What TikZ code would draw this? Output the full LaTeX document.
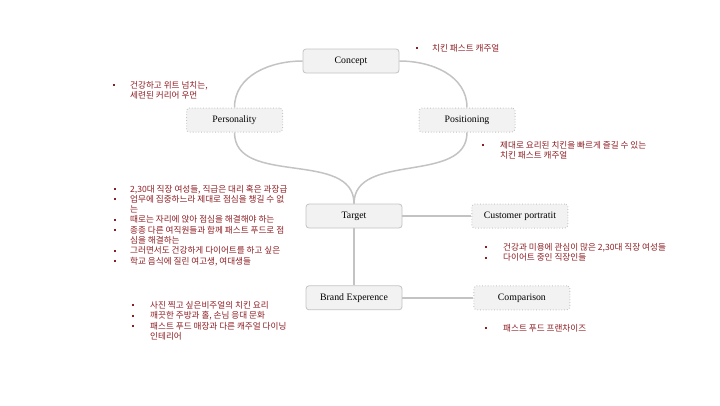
\documentclass[tikz,border=0pt]{standalone}
\usepackage{fontspec}
\setmainfont{Liberation Serif}
\newfontfamily\kofont{Noto Sans CJK KR}
\usetikzlibrary{positioning}
\definecolor{boxfill}{RGB}{242,242,242}
\definecolor{boxline}{RGB}{195,195,195}
\definecolor{linkgray}{RGB}{195,195,195}
\definecolor{notered}{RGB}{140,30,35}
\newcommand{\blt}{\rule[2.3pt]{2pt}{2pt}}

\begin{document}
\begin{tikzpicture}[x=1pt, y=-1pt,
    topic/.style={draw=boxline, fill=boxfill, rounded corners=3pt, line width=0.8pt, minimum width=96pt, minimum height=24pt, inner sep=0pt, font=\fontsize{9.8}{11}\selectfont},
    subtopic/.style={topic, dotted, line width=1pt},
    link/.style={draw=linkgray, line width=1.5pt},
    note/.style={anchor=north west, inner sep=0pt, text=notered, font=\kofont\fontsize{8.6}{10.3}\selectfont}
]
    \useasboundingbox (0,0) rectangle (720,405);

    \node[topic] (concept) at (351,61) {Concept};
    \node[subtopic] (personality) at (234.5,120) {Personality};
    \node[subtopic] (positioning) at (467,120) {Positioning};
    \node[topic] (target) at (354,216) {Target};
    \node[subtopic, right=69pt of target.east, anchor=west] (customer) {Customer portratit};
    \node[topic, below=57pt of target.south, anchor=north] (brand) {Brand Experence};
    \node[subtopic, right=71pt of brand.east, anchor=west] (comparison) {Comparison};

    % links between topics
    \draw[link] (concept.west) to[out=180,in=90] (personality.north);
    \draw[link] (concept.east) to[out=0,in=90] (positioning.north);
    \draw[link] (personality.south) to[out=-90,in=90] (target.north);
    \draw[link] (positioning.south) to[out=-90,in=90] (target.north);
    \draw[link] (target.east) -- (customer.west);
    \draw[link] (target.south) -- (brand.north);
    \draw[link] (brand.east) -- (comparison.west);

    % notes
    \node[note] (conceptnote) at (416,44.1) {\begin{tabular}{@{}p{16pt}@{}l@{}}
        \blt & 치킨 패스트 캐주얼 \\
    \end{tabular}};
    \node[note] (personalitynote) at (113,81.1) {\begin{tabular}{@{}p{17pt}@{}l@{}}
        \blt & 건강하고 위트 넘치는, \\
             & 세련된 커리어 우먼 \\
    \end{tabular}};
    \node[note] (positioningnote) at (482,141.1) {\begin{tabular}{@{}p{18pt}@{}l@{}}
        \blt & 제대로 요리된 치킨을 빠르게 즐길 수 있는 \\
             & 치킨 패스트 캐주얼 \\
    \end{tabular}};
    \node[note] (targetnote) at (114,184.6) {\begin{tabular}{@{}p{16pt}@{}l@{}}
        \blt & 2,30대 직장 여성들, 직급은 대리 혹은 과장급 \\
        \blt & 업무에 집중하느라 제대로 점심을 챙길 수 없 \\
             & 는 \\
        \blt & 때로는 자리에 앉아 점심을 해결해야 하는 \\
        \blt & 종종 다른 여직원들과 함께 패스트 푸드로 점 \\
             & 심을 해결하는 \\
        \blt & 그러면서도 건강하게 다이어트를 하고 싶은 \\
        \blt & 학교 음식에 질린 여고생, 여대생들 \\
    \end{tabular}};
    \node[note] (customernote) at (485,243.1) {\begin{tabular}{@{}p{18pt}@{}l@{}}
        \blt & 건강과 미용에 관심이 많은 2,30대 직장 여성들 \\
        \blt & 다이어트 중인 직장인들 \\
    \end{tabular}};
    \node[note] (brandnote) at (132,301.1) {\begin{tabular}{@{}p{18pt}@{}l@{}}
        \blt & 사진 찍고 싶은비주얼의 치킨 요리 \\
        \blt & 깨끗한 주방과 홀, 손님 응대 문화 \\
        \blt & 패스트 푸드 매장과 다른 캐주얼 다이닝 \\
             & 인테리어 \\
    \end{tabular}};
    \node[note] (comparisonnote) at (485,324.1) {\begin{tabular}{@{}p{18pt}@{}l@{}}
        \blt & 패스트 푸드 프랜차이즈 \\
    \end{tabular}};
\end{tikzpicture}
\end{document}
